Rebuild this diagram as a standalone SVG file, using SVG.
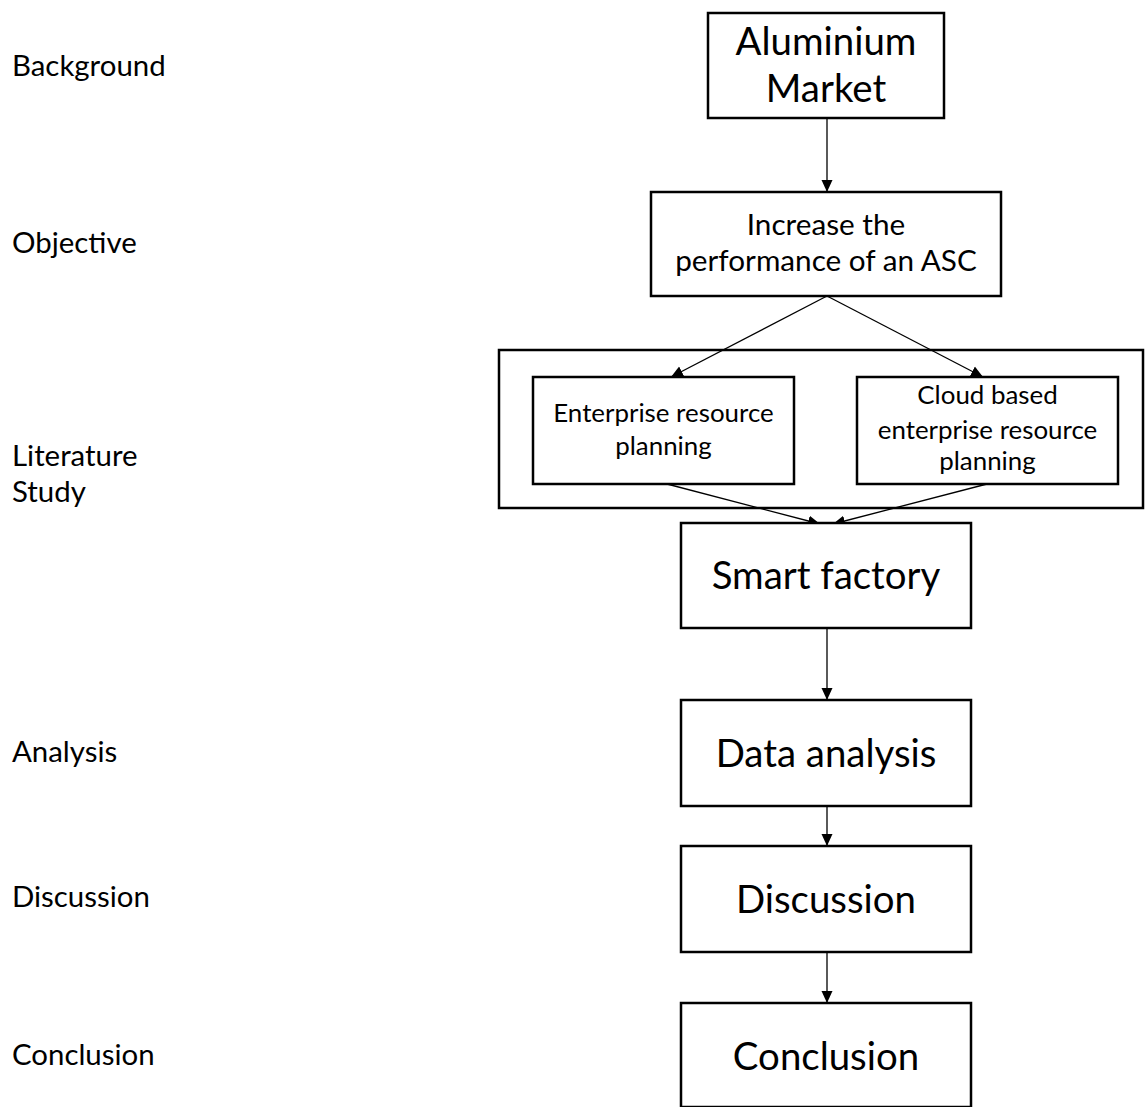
<svg xmlns="http://www.w3.org/2000/svg" width="1145" height="1107" viewBox="0 0 1145 1107">
  <style>
    .box { fill: #ffffff; stroke: #000000; stroke-width: 2.5; }
    .frame { fill: none; stroke: #000000; stroke-width: 2.5; }
    .edge { fill: none; stroke: #000000; stroke-width: 1.3; }
    text { font-family: Lato, "Open Sans", "Liberation Sans", sans-serif; fill: #000000; }
    .side { font-size: 29.4px; }
    .big { font-size: 38.4px; text-anchor: middle; }
    .mid { font-size: 29.7px; text-anchor: middle; }
    .small { font-size: 25.9px; text-anchor: middle; }
  </style>
  <defs>
    <marker id="arrow" markerUnits="userSpaceOnUse" markerWidth="13" markerHeight="13" viewBox="0 0 13 13" refX="12" refY="6.5" orient="auto">
      <path d="M0,1 L12,6.5 L0,12 Z" fill="#000000"/>
    </marker>
  </defs>
  <rect width="1145" height="1107" fill="#ffffff"/>

  <!-- stage labels on the left -->
  <g id="stage-labels">
    <text class="side" x="12" y="76">Background</text>
    <text class="side" x="12" y="253">Objective</text>
    <text class="side" x="12" y="466">Literature</text>
    <text class="side" x="12" y="502">Study</text>
    <text class="side" x="12" y="762">Analysis</text>
    <text class="side" x="12" y="907">Discussion</text>
    <text class="side" x="12" y="1065">Conclusion</text>
  </g>

  <!-- literature study grouping frame -->
  <g id="literature-frame">
    <rect class="frame" x="499" y="350" width="644" height="158"/>
  </g>

  <!-- connectors -->
  <g id="connectors">
    <line class="edge" x1="827" y1="118" x2="827" y2="192" marker-end="url(#arrow)"/>
    <line class="edge" x1="827" y1="296" x2="671" y2="377" marker-end="url(#arrow)"/>
    <line class="edge" x1="827" y1="296" x2="983" y2="377" marker-end="url(#arrow)"/>
    <line class="edge" x1="667" y1="484" x2="820" y2="524" marker-end="url(#arrow)"/>
    <line class="edge" x1="987" y1="484" x2="833" y2="524" marker-end="url(#arrow)"/>
    <line class="edge" x1="827" y1="628" x2="827" y2="700" marker-end="url(#arrow)"/>
    <line class="edge" x1="827" y1="806" x2="827" y2="846" marker-end="url(#arrow)"/>
    <line class="edge" x1="827" y1="952" x2="827" y2="1003" marker-end="url(#arrow)"/>
  </g>

  <g id="aluminium-market">
    <rect class="box" x="708" y="13" width="236" height="105"/>
    <text class="big" x="826" y="55">Aluminium</text>
    <text class="big" x="826" y="102">Market</text>
  </g>

  <g id="objective">
    <rect class="box" x="651" y="192" width="350" height="104"/>
    <text class="mid" x="826" y="235">Increase the</text>
    <text class="mid" x="826" y="271">performance of an ASC</text>
  </g>

  <g id="erp">
    <rect class="box" x="533" y="377" width="261" height="107"/>
    <text class="small" x="663.5" y="422">Enterprise resource</text>
    <text class="small" x="663.5" y="455">planning</text>
  </g>

  <g id="cloud-erp">
    <rect class="box" x="857" y="377" width="261" height="107"/>
    <text class="small" x="987.5" y="404">Cloud based</text>
    <text class="small" x="987.5" y="439">enterprise resource</text>
    <text class="small" x="987.5" y="470">planning</text>
  </g>

  <g id="smart-factory">
    <rect class="box" x="681" y="523" width="290" height="105"/>
    <text class="big" x="826" y="589">Smart factory</text>
  </g>

  <g id="data-analysis">
    <rect class="box" x="681" y="700" width="290" height="106"/>
    <text class="big" x="826" y="767">Data analysis</text>
  </g>

  <g id="discussion">
    <rect class="box" x="681" y="846" width="290" height="106"/>
    <text class="big" x="826" y="913">Discussion</text>
  </g>

  <g id="conclusion">
    <rect class="box" x="681" y="1003" width="290" height="104"/>
    <text class="big" x="826" y="1070">Conclusion</text>
  </g>
</svg>
